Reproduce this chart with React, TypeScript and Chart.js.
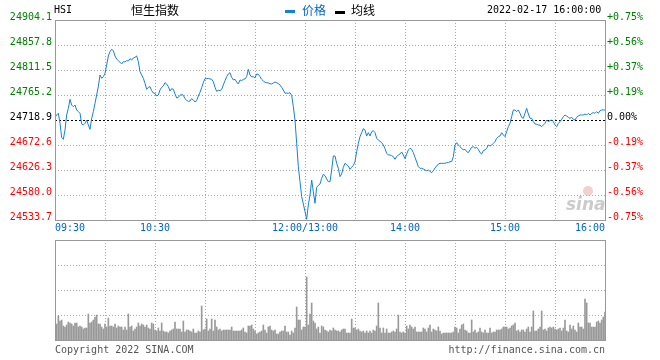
import React, { useEffect, useRef } from "react";
import { Chart, registerables } from "chart.js";

Chart.register(...registerables);

const prevClose = 24718.9;
const priceTicks = [24904.1, 24857.8, 24811.5, 24765.2, 24718.9, 24672.6, 24626.3, 24580.0, 24533.7];
const percentLabels = ["+0.75%", "+0.56%", "+0.37%", "+0.19%", "0.00%", "-0.19%", "-0.37%", "-0.56%", "-0.75%"];
const timeTicks = [0, 60, 150, 210, 270, 330];
const timeLabels = ["09:30", "10:30", "12:00/13:00", "14:00", "15:00", "16:00"];
const gridMinutes = [30, 60, 90, 120, 150, 180, 210, 240, 270, 300];
const volumeGrid = [25, 50, 75];

const prices = [
  24723.9, 24728.2, 24731.3, 24712.8, 24686.8, 24683.1, 24700.4, 24728.2, 24740.5, 24757.2,
  24746.7, 24743.6, 24746.7, 24737.5, 24734.4, 24731.3, 24711.5, 24709.7, 24712.8, 24718.9,
  24709.7, 24701.6, 24722.0, 24734.4, 24749.8, 24765.2, 24780.7, 24802.3, 24796.1, 24799.2,
  24805.4, 24820.8, 24837.5, 24845.5, 24849.8, 24847.3, 24837.5, 24831.9, 24828.8, 24825.7,
  24822.6, 24827.0, 24826.3, 24828.8, 24828.2, 24832.5, 24830.0, 24833.7, 24835.0, 24837.5,
  24827.0, 24808.4, 24802.3, 24796.1, 24786.8, 24775.7, 24779.4, 24780.7, 24773.3, 24768.9,
  24768.3, 24763.4, 24765.2, 24774.5, 24779.4, 24781.9, 24788.1, 24785.6, 24780.7, 24772.6,
  24777.0, 24775.7, 24767.1, 24759.7, 24760.9, 24764.6, 24766.5, 24764.6, 24758.4, 24755.4,
  24753.5, 24754.1, 24758.4, 24756.0, 24752.3, 24754.7, 24763.4, 24770.2, 24778.8, 24788.1,
  24795.5, 24795.5, 24796.1, 24794.9, 24794.2, 24789.9, 24779.4, 24772.0, 24773.9, 24773.3,
  24775.7, 24783.8, 24791.8, 24799.2, 24804.1, 24806.6, 24797.9, 24793.0, 24794.2, 24789.3,
  24785.6, 24793.0, 24791.8, 24794.2, 24794.9, 24799.2, 24812.8, 24802.3, 24798.6, 24799.2,
  24797.3, 24804.1, 24803.5, 24799.2, 24794.2, 24791.2, 24788.7, 24788.1, 24787.5, 24786.2,
  24785.6, 24787.5, 24789.3, 24788.1, 24786.2, 24783.8, 24779.4, 24774.5, 24768.3, 24768.9,
  24768.3, 24769.5, 24764.6, 24743.6, 24718.9, 24675.7, 24632.5, 24604.7, 24577.0, 24563.4,
  24549.2, 24535.0, 24561.5, 24580.0, 24607.8, 24586.2, 24564.6, 24594.2, 24597.9, 24600.4,
  24610.9, 24618.3, 24615.8, 24609.7, 24604.7, 24604.7, 24626.3, 24652.3, 24652.3, 24638.7,
  24629.4, 24614.0, 24618.9, 24631.3, 24638.7, 24636.2, 24633.7, 24627.6, 24631.3, 24635.0,
  24641.8, 24660.3, 24675.7, 24688.1, 24695.5, 24702.9, 24700.4, 24689.3, 24695.5, 24689.3,
  24697.3, 24699.2, 24695.5, 24685.0, 24681.9, 24679.4, 24677.0, 24672.6, 24665.8, 24657.2,
  24654.1, 24654.1, 24652.9, 24651.0, 24646.1, 24651.0, 24654.1, 24656.0, 24659.7, 24654.1,
  24647.3, 24656.0, 24663.4, 24666.5, 24664.6, 24658.4, 24649.8, 24641.2, 24632.5, 24629.4,
  24629.4, 24628.2, 24626.3, 24625.1, 24626.3, 24623.9, 24621.4, 24625.1, 24630.0, 24633.7,
  24637.4, 24638.7, 24638.7, 24638.7, 24638.7, 24639.9, 24639.9, 24641.8, 24641.8, 24651.0,
  24672.6, 24677.0, 24672.6, 24669.5, 24666.5, 24663.4, 24664.6, 24660.3, 24658.4, 24663.4,
  24668.3, 24669.5, 24666.5, 24668.3, 24664.6, 24658.4, 24656.0, 24662.1, 24663.4, 24666.5,
  24672.6, 24670.8, 24672.6, 24675.7, 24678.8, 24685.0, 24688.1, 24689.3, 24695.5, 24691.2,
  24688.1, 24697.3, 24706.6, 24712.8, 24725.1, 24737.5, 24737.5, 24734.4, 24737.5, 24731.3,
  24723.9, 24722.0, 24731.3, 24740.5, 24730.0, 24722.0, 24722.0, 24715.8, 24711.5, 24710.9,
  24709.7, 24709.1, 24706.6, 24709.7, 24712.8, 24718.9, 24715.8, 24717.7, 24718.9, 24715.8,
  24709.7, 24706.6, 24712.8, 24715.8, 24720.2, 24725.1, 24728.2, 24726.3, 24723.9, 24722.0,
  24723.9, 24720.2, 24718.9, 24723.9, 24726.3, 24728.2, 24728.2, 24728.2, 24730.0, 24728.2,
  24731.3, 24728.2, 24731.3, 24732.5, 24731.3, 24734.4, 24731.3, 24736.2, 24737.5, 24737.5,
  24737.5,
];

const volumes = [
  18, 16, 24, 19, 20, 14, 13, 15, 18, 17, 16,
  14, 17, 17, 13, 14, 13, 11, 12, 12, 26,
  17, 18, 20, 23, 25, 16, 16, 13, 11, 16,
  13, 22, 14, 14, 13, 16, 12, 14, 13, 13,
  10, 13, 10, 26, 13, 14, 9, 11, 13, 17,
  14, 16, 15, 13, 15, 12, 11, 17, 16, 10,
  9, 12, 9, 17, 9, 8, 8, 7, 9, 10,
  11, 18, 11, 11, 11, 8, 19, 8, 10, 10,
  9, 8, 11, 7, 7, 9, 8, 34, 10, 11,
  21, 9, 11, 21, 9, 20, 13, 10, 11, 9,
  10, 10, 10, 10, 10, 13, 9, 9, 9,
  9, 9, 10, 12, 8, 7, 14, 14, 15, 11,
  9, 6, 7, 8, 9, 15, 10, 7, 13, 14,
  10, 9, 10, 6, 6, 8, 9, 9, 14, 8,
  8, 5, 9, 7, 12, 33, 20, 20, 10, 13,
  13, 63, 15, 26, 37, 19, 17, 11, 13, 7,
  14, 13, 10, 9, 8, 10, 9, 12, 10, 9,
  9, 8, 10, 11, 11, 7, 7, 7, 21, 12,
  12, 10, 11, 9, 8, 9, 7, 9, 7, 9,
  7, 10, 9, 14, 37, 12, 7, 12, 7, 11,
  7, 7, 8, 9, 8, 11, 25, 8, 7, 8,
  7, 14, 11, 15, 13, 11, 13, 8, 8, 8,
  8, 12, 11, 8, 12, 15, 8, 11, 10, 9,
  13, 9, 6, 7, 7, 7, 7, 7, 7, 8,
  13, 12, 7, 11, 15, 16, 10, 9, 7, 7,
  20, 8, 10, 7, 8, 12, 8, 7, 10, 7,
  7, 12, 7, 8, 8, 10, 10, 10, 11, 13,
  13, 13, 11, 12, 14, 15, 17, 9, 10, 8,
  10, 10, 8, 11, 13, 8, 13, 29, 9, 9,
  11, 13, 29, 10, 11, 9, 12, 13, 12, 13,
  11, 10, 11, 12, 9, 12, 20, 9, 8, 15,
  11, 14, 10, 8, 17, 13, 13, 11, 41, 37,
  17, 17, 13, 13, 13, 18, 19, 17, 20, 23,
  28,
];

const MONO = "'DejaVu Sans Mono', 'Liberation Mono', monospace";
const CJK = "'Noto Sans CJK SC', sans-serif";
const LINE_BLUE = "#1580d8";
const LABEL_BLUE = "#0066cc";
const GREEN = "#008000";
const RED = "#ff0000";
const GRID = "#a8a8a8";
const BORDER = "#999999";

function tickColor(v: number) {
  if (Math.abs(v - prevClose) < 0.05) return "#000000";
  return v > prevClose ? GREEN : RED;
}

function strokeLine(ctx: CanvasRenderingContext2D, x1: number, y1: number, x2: number, y2: number) {
  ctx.beginPath();
  ctx.moveTo(x1, y1);
  ctx.lineTo(x2, y2);
  ctx.stroke();
}

const priceDecor = {
  id: "priceDecor",
  beforeDatasetsDraw(chart: any) {
    const { ctx, chartArea: a, scales } = chart;
    const xs = scales.x;
    const ys = scales.y;
    ctx.save();
    ctx.lineWidth = 1;
    ctx.strokeStyle = GRID;
    ctx.setLineDash([1, 2]);
    priceTicks.forEach((v, i) => {
      if (i === 0 || i === priceTicks.length - 1 || v === prevClose) return;
      const py = Math.round(ys.getPixelForValue(v)) + 0.5;
      strokeLine(ctx, a.left, py, a.right, py);
    });
    gridMinutes.forEach((m) => {
      const px = Math.round(xs.getPixelForValue(m)) + 0.5;
      strokeLine(ctx, px, a.top, px, a.bottom);
    });
    ctx.strokeStyle = "#000000";
    ctx.setLineDash([2, 2]);
    const pc = Math.round(ys.getPixelForValue(prevClose)) + 0.5;
    strokeLine(ctx, a.left, pc, a.right, pc);
    ctx.restore();
  },
  afterDraw(chart: any) {
    const { ctx, chartArea: a } = chart;
    ctx.save();
    ctx.lineWidth = 1;
    ctx.strokeStyle = BORDER;
    ctx.setLineDash([]);
    ctx.strokeRect(Math.round(a.left) + 0.5, Math.round(a.top) + 0.5, Math.round(a.right - a.left), Math.round(a.bottom - a.top));

    // watermark
    ctx.fillStyle = "rgba(232,170,170,0.55)";
    ctx.beginPath();
    ctx.arc(588, 191, 5, 0, Math.PI * 2);
    ctx.fill();
    ctx.fillStyle = "rgba(185,185,185,0.75)";
    ctx.font = "italic bold 17px 'DejaVu Sans', sans-serif";
    ctx.textBaseline = "alphabetic";
    ctx.textAlign = "left";
    ctx.fillText("sina", 566, 210);

    // header
    ctx.textBaseline = "middle";
    ctx.fillStyle = "#000000";
    ctx.font = `10px ${MONO}`;
    ctx.fillText("HSI", 54, 10);
    ctx.font = `12px ${CJK}`;
    ctx.fillText("恒生指数", 131, 10);
    ctx.fillStyle = LINE_BLUE;
    ctx.fillRect(285, 10, 10, 3);
    ctx.fillStyle = LABEL_BLUE;
    ctx.fillText("价格", 302, 10);
    ctx.fillStyle = "#000000";
    ctx.fillRect(335, 11, 10, 3);
    ctx.fillText("均线", 351, 10);
    ctx.font = `10px ${MONO}`;
    ctx.fillText("2022-02-17 16:00:00", 487, 10);
    ctx.restore();
  },
};

const volumeDecor = {
  id: "volumeDecor",
  beforeDatasetsDraw(chart: any) {
    const { ctx, chartArea: a, scales } = chart;
    const xs = scales.x;
    const ys = scales.y;
    ctx.save();
    ctx.lineWidth = 1;
    ctx.strokeStyle = GRID;
    ctx.setLineDash([1, 2]);
    volumeGrid.forEach((v) => {
      const py = Math.round(ys.getPixelForValue(v)) + 0.5;
      strokeLine(ctx, a.left, py, a.right, py);
    });
    gridMinutes.forEach((m) => {
      const px = Math.round(xs.getPixelForValue(m)) + 0.5;
      strokeLine(ctx, px, a.top, px, a.bottom);
    });
    ctx.restore();
  },
  afterDraw(chart: any) {
    const { ctx, chartArea: a } = chart;
    ctx.save();
    ctx.lineWidth = 1;
    ctx.strokeStyle = BORDER;
    ctx.strokeRect(Math.round(a.left) + 0.5, Math.round(a.top) + 0.5, Math.round(a.right - a.left), Math.round(a.bottom - a.top));
    ctx.fillStyle = "#555555";
    ctx.font = `10px ${MONO}`;
    ctx.textBaseline = "middle";
    ctx.textAlign = "left";
    ctx.fillText("Copyright 2022 SINA.COM", 55, 112);
    ctx.textAlign = "right";
    ctx.fillText("http://finance.sina.com.cn", 605, 112);
    ctx.restore();
  },
};

export default function App() {
  const priceRef = useRef<HTMLCanvasElement>(null);
  const volRef = useRef<HTMLCanvasElement>(null);

  useEffect(() => {
    const priceChart = new Chart(priceRef.current!, {
      type: "line",
      data: {
        datasets: [
          {
            label: "价格",
            data: prices.map((v, i) => ({ x: i, y: v })),
            borderColor: LINE_BLUE,
            borderWidth: 1,
            pointRadius: 0,
            tension: 0,
            fill: false,
          },
        ],
      },
      options: {
        responsive: false,
        animation: false,
        devicePixelRatio: 1,
        layout: { padding: { top: 20, left: 0, right: 0, bottom: 0 } },
        plugins: { legend: { display: false }, tooltip: { enabled: false } },
        scales: {
          x: {
            type: "linear",
            min: 0,
            max: 330,
            offset: false,
            grid: { display: false, drawTicks: false, tickLength: 0 },
            border: { display: false },
            afterBuildTicks: (axis: any) => {
              axis.ticks = timeTicks.map((v) => ({ value: v }));
            },
            afterFit: (scale: any) => {
              scale.height = 18;
            },
            ticks: {
              autoSkip: false,
              maxRotation: 0,
              align: "inner",
              padding: 2,
              color: LABEL_BLUE,
              font: { family: MONO, size: 10 },
              callback: (v: any) => timeLabels[timeTicks.indexOf(Number(v))],
            },
          },
          y: {
            type: "linear",
            position: "left",
            min: priceTicks[priceTicks.length - 1],
            max: priceTicks[0],
            grid: { display: false, drawTicks: false, tickLength: 0 },
            border: { display: false },
            afterBuildTicks: (axis: any) => {
              axis.ticks = priceTicks.map((v) => ({ value: v }));
            },
            afterFit: (scale: any) => {
              scale.width = 55;
            },
            ticks: {
              padding: 3,
              labelOffset: -3,
              font: { family: MONO, size: 10 },
              color: (c: any) => tickColor(c.tick.value),
              callback: (v: any) => Number(v).toFixed(1),
            },
          },
          y2: {
            type: "linear",
            position: "right",
            min: priceTicks[priceTicks.length - 1],
            max: priceTicks[0],
            grid: { display: false, drawTicks: false, tickLength: 0 },
            border: { display: false },
            afterBuildTicks: (axis: any) => {
              axis.ticks = priceTicks.map((v) => ({ value: v }));
            },
            afterFit: (scale: any) => {
              scale.width = 55;
            },
            ticks: {
              padding: 2,
              labelOffset: -3,
              font: { family: MONO, size: 10 },
              color: (c: any) => tickColor(c.tick.value),
              callback: (_v: any, i: number) => percentLabels[i],
            },
          },
        },
      },
      plugins: [priceDecor],
    } as any);

    const volChart = new Chart(volRef.current!, {
      type: "bar",
      data: {
        datasets: [
          {
            label: "成交量",
            data: volumes.map((v, i) => ({ x: i, y: v })),
            backgroundColor: "#999999",
            borderWidth: 0,
            barThickness: 1,
          },
        ],
      },
      options: {
        responsive: false,
        animation: false,
        devicePixelRatio: 1,
        layout: { padding: { top: 2, left: 55, right: 55, bottom: 20 } },
        plugins: { legend: { display: false }, tooltip: { enabled: false } },
        scales: {
          x: { type: "linear", min: 0, max: 330, offset: false, display: false },
          y: { type: "linear", min: 0, max: 100, display: false },
        },
      },
      plugins: [volumeDecor],
    } as any);

    return () => {
      priceChart.destroy();
      volChart.destroy();
    };
  }, []);

  return (
    <div style={{ position: "absolute", left: 0, top: 0, width: 660, height: 360, background: "#ffffff" }}>
      <canvas ref={priceRef} width={660} height={238} style={{ position: "absolute", left: 0, top: 0, width: 660, height: 238 }} />
      <canvas ref={volRef} width={660} height={122} style={{ position: "absolute", left: 0, top: 238, width: 660, height: 122 }} />
    </div>
  );
}
